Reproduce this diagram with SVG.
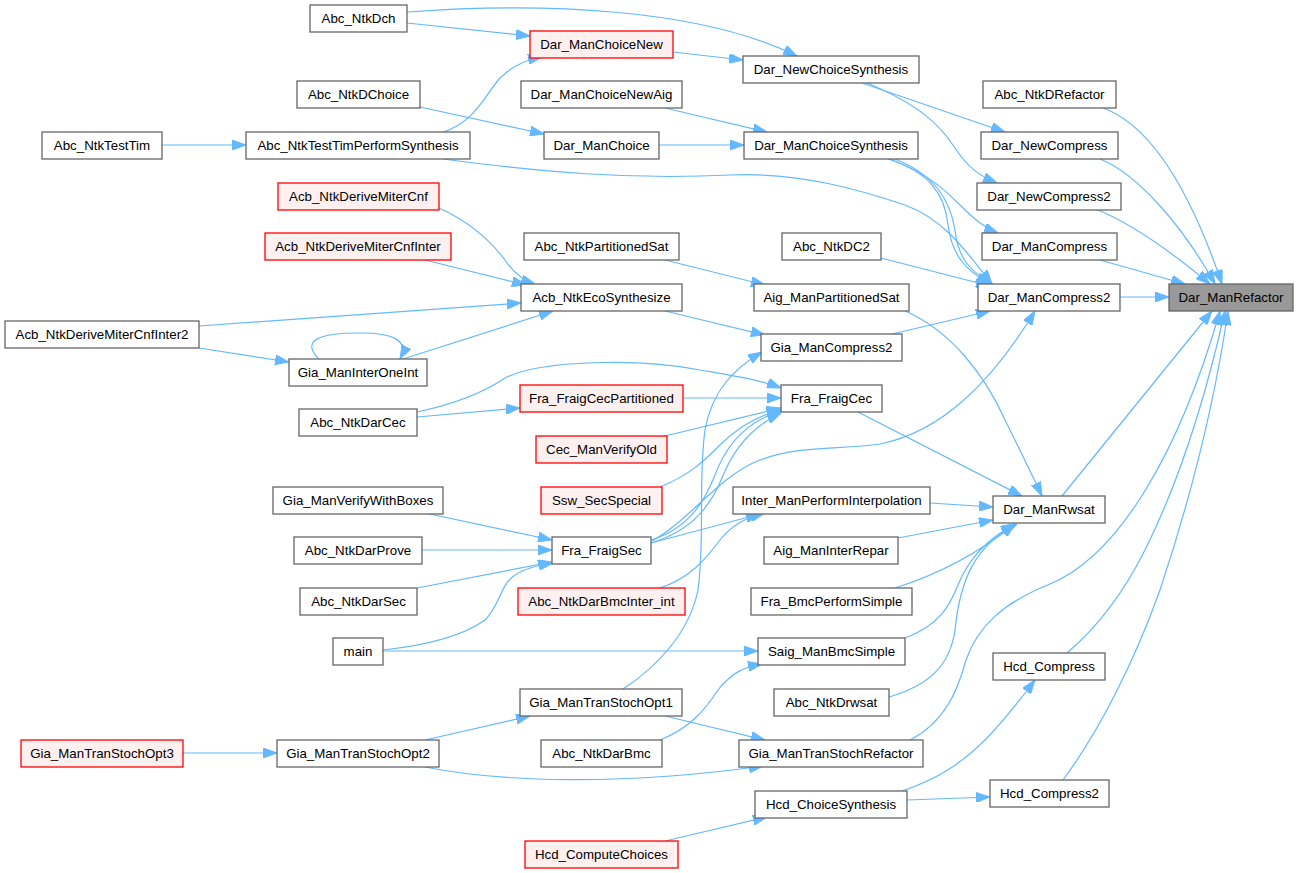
<svg xmlns="http://www.w3.org/2000/svg" width="1299" height="873" viewBox="0 0 1299 873">
<style>
.n rect{fill:#ffffff;stroke:#666666;stroke-width:1.3}
.r rect{fill:#fff0f0;stroke:#ff0000;stroke-width:1.3}
.g rect{fill:#999999;stroke:#666666;stroke-width:1.3}
text{font-family:"Liberation Sans",Arial,sans-serif;font-size:13.3px;fill:#000000;text-anchor:middle}
#edges path{fill:none;stroke:#63b8ff;stroke-width:1.2;marker-end:url(#a)}
</style>
<defs>
<marker id="a" markerUnits="userSpaceOnUse" markerWidth="14" markerHeight="10" refX="14" refY="5" orient="auto"><path d="M0,0 L14,5 L0,10 z" fill="#63b8ff" stroke="#63b8ff" stroke-width="1"/></marker>
<marker id="b" markerUnits="userSpaceOnUse" markerWidth="14" markerHeight="10" refX="14" refY="5" orient="auto"><path d="M0,0 L14,5 L0,10 z" fill="#63b8ff"/></marker>
</defs>
<rect width="1299" height="873" fill="#ffffff"/>
<g id="edges">
<path d="M407,12 C540,2 700,8 797,56"/>
<path d="M407,23 L530,36"/>
<path d="M673,52 L743,60"/>
<path d="M443,132 C475,122 485,95 500,78 C512,66 525,60 542,57"/>
<path d="M420,107 L544,134"/>
<path d="M665,108 L767,132"/>
<path d="M659,145 L744,145"/>
<path d="M162,145 L246,145"/>
<path d="M443,159 C540,172 630,180 730,175 C800,172 860,190 905,205 C945,220 965,250 992,284"/>
<path d="M862,83 L1005,132"/>
<path d="M867,83 C920,105 940,125 955,148 C968,168 980,176 997,183"/>
<path d="M890,159 C930,175 945,190 960,205 C975,220 985,228 998,233"/>
<path d="M888,159 C930,172 945,195 948,225 C952,255 965,270 990,284"/>
<path d="M895,159 C935,175 950,200 955,230 C958,258 970,272 993,284"/>
<path d="M881,258 L990,286"/>
<path d="M1103,108 C1150,125 1190,190 1222,284"/>
<path d="M1100,159 C1140,175 1185,230 1215,284"/>
<path d="M1095,209 C1130,222 1175,255 1210,284"/>
<path d="M1100,260 L1185,284"/>
<path d="M1120,297 L1169,297"/>
<path d="M439,208 C470,222 490,240 505,260 C513,272 522,280 535,284"/>
<path d="M425,260 L526,285"/>
<path d="M199,326 L521,303"/>
<path d="M403,359 L553,311"/>
<path d="M199,348 L289,362"/>
<path d="M319,359 C300,340 320,333 360,333 C392,333 410,340 400,359"/>
<path d="M665,311 L765,335"/>
<path d="M892,334 L990,311"/>
<path d="M623,689 C660,665 690,630 698,590 C705,540 698,480 705,430 C712,390 735,368 762,352"/>
<path d="M905,311 C950,330 985,375 1005,420 C1020,450 1032,475 1042,496"/>
<path d="M665,260 L765,285"/>
<path d="M858,412 L1022,496"/>
<path d="M652,541 C690,520 720,475 760,460 C800,445 840,450 880,444 C940,432 990,385 1035,311"/>
<path d="M417,412 C450,405 480,395 505,378 C540,360 640,358 700,370 C740,377 760,380 781,388"/>
<path d="M417,417 L520,408"/>
<path d="M683,398 L781,398"/>
<path d="M665,436 L781,408"/>
<path d="M660,487 C690,475 705,460 720,445 C740,425 760,415 781,410"/>
<path d="M651,540 C690,528 705,500 715,475 C728,440 750,420 781,411"/>
<path d="M651,543 C695,530 712,502 722,478 C735,445 755,425 781,413"/>
<path d="M651,543 L760,514"/>
<path d="M660,588 C690,578 705,560 720,540 C732,525 745,518 765,513"/>
<path d="M930,503 L993,507"/>
<path d="M898,538 L993,520"/>
<path d="M895,588 C930,577 970,560 1015,524"/>
<path d="M905,638 C940,625 950,605 958,585 C968,560 985,540 1015,524"/>
<path d="M889,697 C930,685 950,665 955,630 C960,580 975,545 1017,524"/>
<path d="M1062,496 L1212,311"/>
<path d="M910,740 C945,722 958,690 966,660 C978,625 1005,602 1050,584 C1120,555 1180,450 1220,311"/>
<path d="M1067,653 C1100,625 1125,590 1145,550 C1180,480 1205,400 1225,311"/>
<path d="M1063,780 C1100,730 1135,660 1160,590 C1190,500 1215,400 1228,311"/>
<path d="M902,791 C935,780 960,765 985,740 C1005,720 1020,700 1035,680"/>
<path d="M907,800 L990,797"/>
<path d="M665,841 L767,817"/>
<path d="M183,753 L277,753"/>
<path d="M425,740 L530,716"/>
<path d="M425,767 C500,782 620,786 763,766"/>
<path d="M665,716 L765,740"/>
<path d="M660,740 C690,728 705,710 718,690 C732,672 745,667 762,664"/>
<path d="M383,651 L758,651"/>
<path d="M383,650 C420,646 460,638 485,620 C500,605 500,585 515,575 C525,568 540,565 553,563"/>
<path d="M425,513 L552,540"/>
<path d="M422,550 L552,550"/>
<path d="M417,588 L552,562"/>
</g>
<g id="Abc_NtkDch" class="n"><rect x="310" y="5" width="97" height="27"/><text x="358.5" y="23">Abc_NtkDch</text></g>
<g id="Dar_ManChoiceNew" class="r"><rect x="530" y="31" width="143" height="27"/><text x="601.5" y="49">Dar_ManChoiceNew</text></g>
<g id="Dar_NewChoiceSynthesis" class="n"><rect x="743" y="56" width="176" height="27"/><text x="831" y="74">Dar_NewChoiceSynthesis</text></g>
<g id="Abc_NtkDChoice" class="n"><rect x="297" y="81" width="123" height="27"/><text x="358.5" y="99">Abc_NtkDChoice</text></g>
<g id="Dar_ManChoiceNewAig" class="n"><rect x="521" y="81" width="161" height="27"/><text x="601.5" y="99">Dar_ManChoiceNewAig</text></g>
<g id="Abc_NtkDRefactor" class="n"><rect x="983" y="81" width="133" height="27"/><text x="1049.5" y="99">Abc_NtkDRefactor</text></g>
<g id="Abc_NtkTestTim" class="n"><rect x="42" y="132" width="120" height="27"/><text x="102" y="150">Abc_NtkTestTim</text></g>
<g id="Abc_NtkTestTimPerformSynthesis" class="n"><rect x="246" y="132" width="224" height="27"/><text x="358" y="150">Abc_NtkTestTimPerformSynthesis</text></g>
<g id="Dar_ManChoice" class="n"><rect x="544" y="132" width="115" height="27"/><text x="601.5" y="150">Dar_ManChoice</text></g>
<g id="Dar_ManChoiceSynthesis" class="n"><rect x="744" y="132" width="174" height="27"/><text x="831" y="150">Dar_ManChoiceSynthesis</text></g>
<g id="Dar_NewCompress" class="n"><rect x="981" y="132" width="137" height="27"/><text x="1049.5" y="150">Dar_NewCompress</text></g>
<g id="Acb_NtkDeriveMiterCnf" class="r"><rect x="278" y="183" width="161" height="27"/><text x="358.5" y="201">Acb_NtkDeriveMiterCnf</text></g>
<g id="Dar_NewCompress2" class="n"><rect x="977" y="183" width="144" height="27"/><text x="1049" y="201">Dar_NewCompress2</text></g>
<g id="Acb_NtkDeriveMiterCnfInter" class="r"><rect x="265" y="233" width="186" height="27"/><text x="358" y="251">Acb_NtkDeriveMiterCnfInter</text></g>
<g id="Abc_NtkPartitionedSat" class="n"><rect x="524" y="233" width="155" height="27"/><text x="601.5" y="251">Abc_NtkPartitionedSat</text></g>
<g id="Abc_NtkDC2" class="n"><rect x="782" y="233" width="99" height="27"/><text x="831.5" y="251">Abc_NtkDC2</text></g>
<g id="Dar_ManCompress" class="n"><rect x="982" y="233" width="135" height="27"/><text x="1049.5" y="251">Dar_ManCompress</text></g>
<g id="Acb_NtkEcoSynthesize" class="n"><rect x="521" y="284" width="161" height="27"/><text x="601.5" y="302">Acb_NtkEcoSynthesize</text></g>
<g id="Aig_ManPartitionedSat" class="n"><rect x="754" y="284" width="155" height="27"/><text x="831.5" y="302">Aig_ManPartitionedSat</text></g>
<g id="Dar_ManCompress2" class="n"><rect x="978" y="284" width="142" height="27"/><text x="1049" y="302">Dar_ManCompress2</text></g>
<g id="Dar_ManRefactor" class="g"><rect x="1169" y="284" width="124" height="27"/><text x="1231" y="302">Dar_ManRefactor</text></g>
<g id="Acb_NtkDeriveMiterCnfInter2" class="n"><rect x="5" y="321" width="194" height="27"/><text x="102" y="339">Acb_NtkDeriveMiterCnfInter2</text></g>
<g id="Gia_ManCompress2" class="n"><rect x="761" y="334" width="141" height="27"/><text x="831.5" y="352">Gia_ManCompress2</text></g>
<g id="Gia_ManInterOneInt" class="n"><rect x="289" y="359" width="138" height="27"/><text x="358" y="377">Gia_ManInterOneInt</text></g>
<g id="Fra_FraigCecPartitioned" class="r"><rect x="520" y="385" width="163" height="27"/><text x="601.5" y="403">Fra_FraigCecPartitioned</text></g>
<g id="Fra_FraigCec" class="n"><rect x="781" y="385" width="101" height="27"/><text x="831.5" y="403">Fra_FraigCec</text></g>
<g id="Abc_NtkDarCec" class="n"><rect x="299" y="409" width="118" height="27"/><text x="358" y="427">Abc_NtkDarCec</text></g>
<g id="Cec_ManVerifyOld" class="r"><rect x="536" y="436" width="131" height="27"/><text x="601.5" y="454">Cec_ManVerifyOld</text></g>
<g id="Gia_ManVerifyWithBoxes" class="n"><rect x="273" y="487" width="170" height="27"/><text x="358" y="505">Gia_ManVerifyWithBoxes</text></g>
<g id="Ssw_SecSpecial" class="r"><rect x="541" y="487" width="121" height="27"/><text x="601.5" y="505">Ssw_SecSpecial</text></g>
<g id="Inter_ManPerformInterpolation" class="n"><rect x="733" y="487" width="197" height="27"/><text x="831.5" y="505">Inter_ManPerformInterpolation</text></g>
<g id="Dar_ManRwsat" class="n"><rect x="993" y="496" width="112" height="27"/><text x="1049" y="514">Dar_ManRwsat</text></g>
<g id="Abc_NtkDarProve" class="n"><rect x="294" y="537" width="128" height="27"/><text x="358" y="555">Abc_NtkDarProve</text></g>
<g id="Fra_FraigSec" class="n"><rect x="552" y="537" width="99" height="27"/><text x="601.5" y="555">Fra_FraigSec</text></g>
<g id="Aig_ManInterRepar" class="n"><rect x="764" y="537" width="134" height="27"/><text x="831" y="555">Aig_ManInterRepar</text></g>
<g id="Abc_NtkDarSec" class="n"><rect x="300" y="588" width="117" height="27"/><text x="358.5" y="606">Abc_NtkDarSec</text></g>
<g id="Abc_NtkDarBmcInter_int" class="r"><rect x="518" y="588" width="167" height="27"/><text x="601.5" y="606">Abc_NtkDarBmcInter_int</text></g>
<g id="Fra_BmcPerformSimple" class="n"><rect x="751" y="588" width="161" height="27"/><text x="831.5" y="606">Fra_BmcPerformSimple</text></g>
<g id="main" class="n"><rect x="333" y="638" width="50" height="27"/><text x="358" y="656">main</text></g>
<g id="Saig_ManBmcSimple" class="n"><rect x="758" y="638" width="147" height="27"/><text x="831.5" y="656">Saig_ManBmcSimple</text></g>
<g id="Hcd_Compress" class="n"><rect x="993" y="653" width="112" height="27"/><text x="1049" y="671">Hcd_Compress</text></g>
<g id="Gia_ManTranStochOpt1" class="n"><rect x="520" y="689" width="162" height="27"/><text x="601" y="707">Gia_ManTranStochOpt1</text></g>
<g id="Abc_NtkDrwsat" class="n"><rect x="774" y="689" width="115" height="27"/><text x="831.5" y="707">Abc_NtkDrwsat</text></g>
<g id="Gia_ManTranStochOpt3" class="r"><rect x="21" y="740" width="162" height="27"/><text x="102" y="758">Gia_ManTranStochOpt3</text></g>
<g id="Gia_ManTranStochOpt2" class="n"><rect x="277" y="740" width="162" height="27"/><text x="358" y="758">Gia_ManTranStochOpt2</text></g>
<g id="Abc_NtkDarBmc" class="n"><rect x="541" y="740" width="121" height="27"/><text x="601.5" y="758">Abc_NtkDarBmc</text></g>
<g id="Gia_ManTranStochRefactor" class="n"><rect x="739" y="740" width="184" height="27"/><text x="831" y="758">Gia_ManTranStochRefactor</text></g>
<g id="Hcd_Compress2" class="n"><rect x="990" y="780" width="119" height="27"/><text x="1049.5" y="798">Hcd_Compress2</text></g>
<g id="Hcd_ChoiceSynthesis" class="n"><rect x="755" y="791" width="152" height="27"/><text x="831" y="809">Hcd_ChoiceSynthesis</text></g>
<g id="Hcd_ComputeChoices" class="r"><rect x="525" y="841" width="153" height="27"/><text x="601.5" y="859">Hcd_ComputeChoices</text></g>
</svg>
